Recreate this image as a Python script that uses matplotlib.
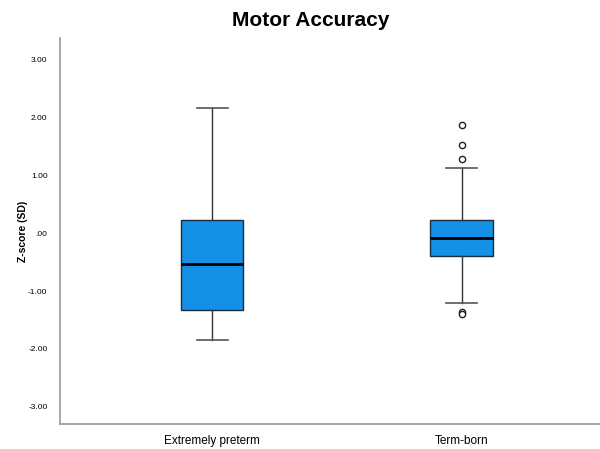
import matplotlib
matplotlib.use("Agg")
import matplotlib.pyplot as plt
from matplotlib import font_manager

# values
groups = ["Extremely preterm", "Term-born"]
q1 = [-1.32, -0.40]
median = [-0.53, -0.08]
q3 = [0.23, 0.23]
whisker_lo = [-1.85, -1.21]
whisker_hi = [2.17, 1.13]
outliers = [[], [1.88, 1.53, 1.28, -1.37, -1.39]]
yticks = [3, 2, 1, 0, -1, -2, -3]
ytick_labels = ["3.00", "2.00", "1.00", ".00", "-1.00", "-2.00", "-3.00"]

names = {f.name for f in font_manager.fontManager.ttflist}
narrow = "Liberation Sans Narrow" if "Liberation Sans Narrow" in names else "Liberation Sans"
plt.rcParams["font.family"] = [narrow, "DejaVu Sans"]

stats = []
for i, g in enumerate(groups):
    stats.append({
        "label": g, "med": median[i], "q1": q1[i], "q3": q3[i],
        "whislo": whisker_lo[i], "whishi": whisker_hi[i], "fliers": outliers[i],
    })

fig = plt.figure(figsize=(6, 4.49), dpi=100)
ax = fig.add_axes([0.1, 0.0557, 0.9, 0.8597])

ax.bxp(
    stats, positions=[1, 2], widths=0.25, patch_artist=True,
    boxprops=dict(facecolor="#1490e6", edgecolor="#1c2d3c", linewidth=1.0),
    medianprops=dict(color="black", linewidth=2),
    whiskerprops=dict(color="#333333", linewidth=1.0),
    capprops=dict(color="#555555", linewidth=1.2),
    capwidths=0.125,
    flierprops=dict(marker="o", markerfacecolor="white", markeredgecolor="#222222",
                    markersize=4.5, markeredgewidth=1.0),
)

ax.set_xlim(0.39, 2.555)
ax.set_ylim(-3.30, 3.38)
ax.set_yticks(yticks)
ax.set_yticklabels(ytick_labels, fontsize=6)
ax.set_xticks([1, 2])
ax.set_xticklabels(groups, fontsize=8.5)
ax.tick_params(axis="y", length=0, pad=9)
ax.tick_params(axis="x", length=0, pad=8)

for s in ["top", "right"]:
    ax.spines[s].set_visible(False)
for s in ["left", "bottom"]:
    ax.spines[s].set_color("#9a9a9a")
    ax.spines[s].set_linewidth(1.2)

ax.set_ylabel("Z-score (SD)", fontsize=7.5, fontweight="bold",
              family=["Liberation Sans", "DejaVu Sans"], labelpad=0)
fig.text(0.518, 0.955, "Motor Accuracy", ha="center", va="center", fontsize=15, fontweight="bold")

fig.savefig("out.png", dpi=100)
